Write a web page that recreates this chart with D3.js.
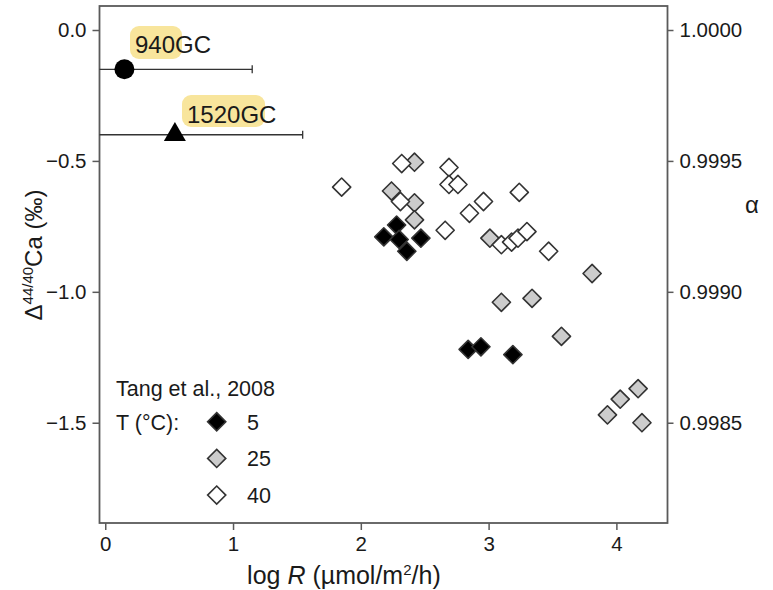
<!DOCTYPE html>
<html><head><meta charset="utf-8">
<script src="https://cdn.jsdelivr.net/npm/d3@7"></script>
<style>body{margin:0;background:#fff}svg{display:block}text{font-family:"Liberation Sans",Arial,Helvetica,sans-serif;fill:#1a1a1a}</style>
</head><body><svg id="c" width="773" height="590"></svg>
<script>
// ---- data ----
const t5_logR = [2.18, 2.28, 2.30, 2.36, 2.47, 2.84, 2.94, 3.19];
const t5_d    = [-0.79, -0.745, -0.80, -0.845, -0.795, -1.22, -1.21, -1.24];
const t25_logR = [2.42, 2.24, 2.42, 2.42, 3.01, 3.10, 3.34, 3.57, 3.81, 3.93, 4.03, 4.17, 4.20];
const t25_d    = [-0.505, -0.615, -0.66, -0.725, -0.795, -1.04, -1.025, -1.17, -0.93, -1.47, -1.41, -1.37, -1.50];
const t40_logR = [1.85, 2.32, 2.69, 2.69, 2.76, 2.31, 2.66, 2.85, 2.96, 3.24, 3.10, 3.18, 3.23, 3.30, 3.47];
const t40_d    = [-0.60, -0.51, -0.525, -0.59, -0.59, -0.655, -0.765, -0.70, -0.655, -0.62, -0.82, -0.81, -0.795, -0.77, -0.845];
const gcNames = ["940GC", "1520GC"];
const gcLogR  = [0.15, 0.545];
const gcD     = [-0.15, -0.40];
const gcErr   = [1.0, 1.0];
const xTicks = [0, 1, 2, 3, 4];
const yTicks = [0, -0.5, -1.0, -1.5];
const aTicks = [1.0000, 0.9995, 0.9990, 0.9985];
const legendTemps = ["5", "25", "40"];

const svg = d3.select("#c");
const L = 99.5, R = 667.5, T = 6, B = 523;
const x = d3.scaleLinear().domain([-0.045, 4.40]).range([L, R]);
const y = d3.scaleLinear().domain([0.0917, -1.883]).range([T, B]);
const ya = d3.scaleLinear().domain([1 + 0.0917/1000, 1 - 1.883/1000]).range([T, B]);
const axCol = "#5a5a5a";

svg.append("clipPath").attr("id","clip").append("rect").attr("x",L).attr("y",T).attr("width",R-L).attr("height",B-T);

function styleAxis(g){
  g.select(".domain").remove();
  g.selectAll(".tick line").attr("stroke", axCol).attr("stroke-width", 1.5);
  g.selectAll(".tick text").style("font-size","20.5px").attr("fill","#1a1a1a");
}
svg.append("g").attr("transform",`translate(0,${B})`)
  .call(d3.axisBottom(x).tickValues(xTicks).tickFormat(d3.format("d")).tickSize(7).tickPadding(6))
  .call(styleAxis);
svg.append("g").attr("transform",`translate(${L},0)`)
  .call(d3.axisLeft(y).tickValues(yTicks).tickFormat(d3.format(".1f")).tickSize(7).tickPadding(6))
  .call(styleAxis);
svg.append("g").attr("transform",`translate(${R},0)`)
  .call(d3.axisRight(ya).tickValues(aTicks).tickFormat(d3.format(".4f")).tickSize(6).tickPadding(6))
  .call(styleAxis);
svg.append("rect").attr("x",L).attr("y",T).attr("width",R-L).attr("height",B-T)
  .attr("fill","none").attr("stroke",axCol).attr("stroke-width",1.8);

// highlights
const hl = [[130,26,52,33],[182,95,83,32]];
const lab = svg.append("g");
gcNames.forEach((n,i)=>{
  lab.append("rect").attr("x",hl[i][0]).attr("y",hl[i][1]).attr("width",hl[i][2]).attr("height",hl[i][3])
    .attr("rx",9).attr("fill","#f8e59c");
});
lab.append("text").attr("x",135).attr("y",53).style("font-size","24px").text(gcNames[0]);
lab.append("text").attr("x",187).attr("y",123).style("font-size","24px").text(gcNames[1]);

// error bars
const eb = svg.append("g").attr("clip-path","url(#clip)");
gcNames.forEach((n,i)=>{
  eb.append("line").attr("x1",x(gcLogR[i]-gcErr[i])).attr("x2",x(gcLogR[i]+gcErr[i]))
    .attr("y1",y(gcD[i])).attr("y2",y(gcD[i])).attr("stroke","#333").attr("stroke-width",1.3);
  eb.append("line").attr("x1",x(gcLogR[i]+gcErr[i])).attr("x2",x(gcLogR[i]+gcErr[i]))
    .attr("y1",y(gcD[i])-4).attr("y2",y(gcD[i])+4).attr("stroke","#333").attr("stroke-width",1.3);
});
svg.append("circle").attr("cx",x(gcLogR[0])).attr("cy",y(gcD[0])).attr("r",10).attr("fill","#000");
svg.append("path").attr("d",d3.symbol(d3.symbolTriangle,210)()).attr("transform",`translate(${x(gcLogR[1])},${y(gcD[1])})`).attr("fill","#000");

// diamonds
const dia = d3.symbol(d3.symbolDiamond2, 210)();
function drawSet(xs, ys, fill){
  svg.append("g").selectAll("path").data(xs.map((v,i)=>[v,ys[i]])).join("path")
    .attr("d",dia).attr("transform",d=>`translate(${x(d[0])},${y(d[1])})`)
    .attr("fill",fill).attr("stroke","#333").attr("stroke-width",1.6).attr("stroke-linejoin","round");
}
drawSet(t25_logR, t25_d, "#cccccc");
drawSet(t40_logR, t40_d, "#ffffff");
drawSet(t5_logR, t5_d, "#000000");

// legend
const lg = svg.append("g").style("font-size","21.5px");
lg.append("text").attr("x",116).attr("y",396).text("Tang et al., 2008");
lg.append("text").attr("x",116).attr("y",430).text("T (°C):");
const fills = ["#000000","#cccccc","#ffffff"];
legendTemps.forEach((t,i)=>{
  const cy = 421.7 + i*36.7;
  lg.append("path").attr("d",dia).attr("transform",`translate(216.7,${cy})`).attr("fill",fills[i]).attr("stroke","#333").attr("stroke-width",1.6);
  lg.append("text").attr("x",247).attr("y",cy+8).text(t);
});

// titles
const xt = svg.append("text").attr("x",x(1.11)).attr("y",584).attr("text-anchor","start").style("font-size","25px");
xt.append("tspan").text("log ");
xt.append("tspan").style("font-style","italic").text("R");
xt.append("tspan").text(" (µmol/m");
xt.append("tspan").attr("dy",-9).style("font-size","15px").text("2");
xt.append("tspan").attr("dy",9).text("/h)");

const yt = svg.append("text").attr("transform",`translate(42,255) rotate(-90)`).attr("text-anchor","middle").style("font-size","24px");
yt.append("tspan").text("Δ");
yt.append("tspan").attr("dy",-9).style("font-size","15px").text("44/40");
yt.append("tspan").attr("dy",9).text("Ca (‰)");

svg.append("text").attr("x",752).attr("y",213).attr("text-anchor","middle").style("font-size","24px").text("α");
</script></body></html>
